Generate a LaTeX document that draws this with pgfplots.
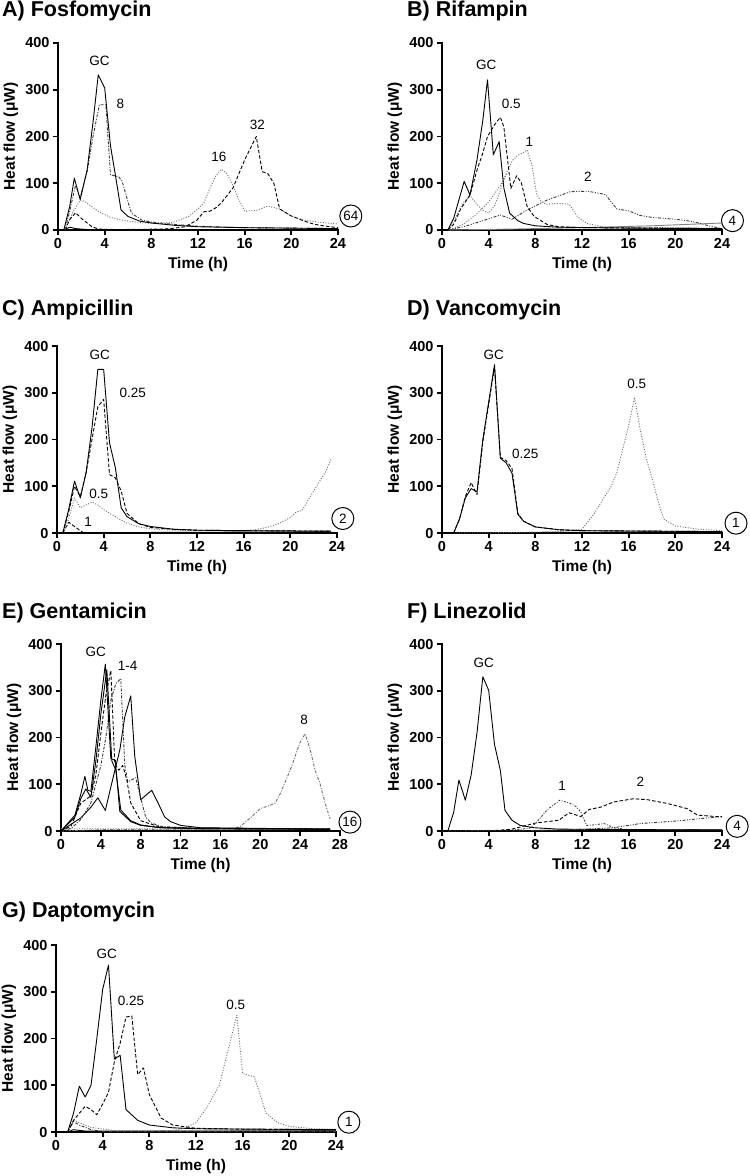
\documentclass[border=0pt]{standalone}
\usepackage{fontspec}
\setmainfont{Liberation Sans}
\usepackage{pgfplots}
\pgfplotsset{compat=1.18}
\definecolor{dotgray}{HTML}{707070}
\definecolor{dkgray}{HTML}{3A3A3A}
\pgfplotsset{
  panel/.style={
    scale only axis, width=280pt, height=187pt,
    xmin=0, xmax=24, ymin=0, ymax=400,
    axis lines=left, axis line style={-, line width=2.4pt, line cap=rect},
    tick align=outside, major tick length=5pt,
    tick style={line width=1.8pt, black},
    xtick={0,4,...,24}, ytick={0,100,...,400},
    tick label style={font=\fontsize{14.5}{14.5}\selectfont\bfseries},
    /pgf/number format/assume math mode=true,
    xlabel={Time (h)}, ylabel={Heat flow (μW)},
    label style={font=\fontsize{15.5}{15.5}\selectfont\bfseries},
    xlabel style={at={(axis description cs:0.5,-0.187)}, anchor=center},
    ylabel style={at={(axis description cs:-0.168,0.5)}, anchor=center},
    clip=false,
    every axis plot/.append style={line width=0.9pt, line join=round},
  },
  sol/.style={black, solid},
  das/.style={black, dash pattern=on 3.5pt off 2pt},
  dot/.style={dotgray, dash pattern=on 1pt off 1.6pt},
  dd/.style={dkgray, dash pattern=on 3pt off 1.5pt on 1pt off 1.5pt},
  ddd/.style={dkgray, dash pattern=on 3pt off 1.5pt on 1pt off 1.5pt on 1pt off 1.5pt},
  flat/.style={black, line width=1.4pt},
}
\tikzset{
  annot/.style={font=\fontsize{13.5}{13.5}\selectfont, inner sep=0pt},
  circ/.style={draw, circle, line width=1pt, inner sep=1pt, minimum size=22pt, font=\fontsize{13.5}{13.5}\selectfont},
  ttl/.style={anchor=base west, inner sep=0pt, font=\fontsize{21.5}{21.5}\selectfont\bfseries},
}
\begin{document}
\begin{tikzpicture}
\useasboundingbox (0,0) rectangle (750pt,-1176pt);
\node[ttl] at (2pt,-16pt) {A) Fosfomycin};
\node[ttl] at (407pt,-16pt) {B) Rifampin};
\node[ttl] at (2pt,-315pt) {C) Ampicillin};
\node[ttl] at (407pt,-315pt) {D) Vancomycin};
\node[ttl] at (2pt,-618pt) {E) Gentamicin};
\node[ttl] at (407pt,-618pt) {F) Linezolid};
\node[ttl] at (2pt,-917pt) {G) Daptomycin};

% ---------------- A
\begin{axis}[panel, at={(58pt,-230pt)}, anchor=south west]
\addplot[flat] coordinates {(0.5,0)(24,0.5)};
\addplot[sol] coordinates {(0.5,0)(1,6)(1.5,3)(2.5,1)(24,1)};
\addplot[dot] coordinates {(0.6,0)(1.2,35)(1.9,64)(2.3,61)(3,48)(3.5,39)(4.5,27)(5.5,21)(7,16)(8.3,14)(9.8,16)(11.2,29)(12,45)(12.5,58)(13,88)(13.5,115)(14,130)(14.5,120)(15,95)(15.5,65)(16,40)(17,42)(18,51)(19,45)(20,30)(21,22)(22,18)(23,15)(24,13)};
\addplot[das] coordinates {(0.6,0)(1,22)(1.5,37)(2,25)(2.9,7)(3.5,2)(5,1)(9,2)(10,4)(10.9,7)(11.9,21)(12.5,39)(13,40)(13.5,47)(14,58)(15,90)(16,150)(17,200)(17.5,125)(18,120)(18.5,100)(19,45)(20,30)(21,20)(22,12)(23,8)(24,5)};
\addplot[dd] coordinates {(0.6,0)(1,40)(1.5,95)(1.9,70)(2.5,125)(3,200)(3.55,268)(4.1,268)(4.5,118)(5.2,114)(5.5,104)(6,60)(6.3,36)(7.2,21)(8,17)(10,12)(12,8)(16,5)(20,4)(24,3)};
\addplot[sol] coordinates {(0.5,0)(1,50)(1.4,111)(1.9,65)(2.5,129)(3,230)(3.45,332)(4,304)(4.5,180)(5,105)(5.4,43)(6,29)(7,19)(8,15)(10,10)(12,7)(16,5)(20,4)(24,3)};
\node[annot] at (axis cs:3.55,361) {GC};
\node[annot] at (axis cs:5.35,269) {8};
\node[annot] at (axis cs:13.8,157) {16};
\node[annot] at (axis cs:17.1,225) {32};
\node[circ] at (axis cs:25.1,30) {64};
\end{axis}

% ---------------- B
\begin{axis}[panel, at={(442pt,-230pt)}, anchor=south west]
\addplot[flat] coordinates {(0.5,0)(24,1)};
\addplot[sol, gray] coordinates {(0.5,0)(6,2)(12,5)(18,9)(21,12)(24,15)};
\addplot[ddd] coordinates {(0.5,0)(2,8)(3.5,20)(5,32)(6,23)(7.3,43)(9,64)(11,82)(12.5,83)(14,76)(14.5,60)(15,45)(16,41)(17,31)(18,27)(19,25)(20,23)(21,20)(22,15)(23,8)(24,3)};
\addplot[dot] coordinates {(0.7,0)(2,15)(3,35)(4,60)(5,95)(5.5,120)};
\addplot[dot] coordinates {(0.6,0)(1.2,28)(1.8,58)(2.4,73)(3,55)(3.5,42)(4,36)(4.5,52)(5,85)(5.5,120)(6,148)(6.5,160)(7,166)(7.3,171)(7.7,140)(8.1,78)(8.5,60)(9,55)(10,57)(10.9,55)(11.6,29)(12.4,14)(14,6)(24,4)};
\addplot[das] coordinates {(0.5,0)(1,12)(1.6,45)(2.4,75)(3,128)(3.5,165)(3.9,200)(4.5,225)(5,241)(5.3,221)(5.9,89)(6.4,116)(6.8,101)(7.3,50)(7.9,29)(9,12)(10,7)(12,5)(24,3)};
\addplot[sol] coordinates {(0.5,0)(1,25)(1.4,60)(1.9,104)(2.4,75)(3,150)(3.5,235)(3.9,321)(4.4,161)(4.9,189)(5.3,90)(5.8,36)(6.5,20)(7,14)(8,9)(10,6)(16,4)(24,3)};
\node[annot] at (axis cs:3.8,354) {GC};
\node[annot] at (axis cs:5.94,270) {0.5};
\node[annot] at (axis cs:7.5,189) {1};
\node[annot] at (axis cs:12.5,114) {2};
\node[circ] at (axis cs:24.9,20) {4};
\end{axis}

% ---------------- C
\begin{axis}[panel, at={(57pt,-533pt)}, anchor=south west]
\addplot[flat] coordinates {(0.5,0)(23.5,2)};
\addplot[das] coordinates {(0.5,0)(1,23)(2,5)(2.3,0)};
\addplot[dot] coordinates {(0.5,0)(1,30)(1.5,75)(2,54)(2.5,60)(3,66)(3.5,60)(4,50)(5,35)(6,21)(7,13)(8,9)(10,6)(12,5)(16,5)(17,7)(18,12)(19,20)(20,33)(20.5,45)(21,48)(22,90)(23,130)(23.5,158)};
\addplot[das] coordinates {(0.5,0)(1,45)(1.5,100)(2,78)(2.5,130)(3,200)(3.5,270)(4,286)(4.5,125)(5,118)(5.5,90)(6,42)(7,20)(8,12)(10,8)(12,6)(16,5)(23.5,4)};
\addplot[sol] coordinates {(0.5,0)(1,50)(1.5,111)(2,75)(2.5,130)(3,225)(3.5,350)(4,350)(4.5,193)(5,140)(5.5,54)(6,35)(7,20)(8,14)(10,8)(12,6)(16,5)(23.5,4)};
\node[annot] at (axis cs:3.66,382) {GC};
\node[annot] at (axis cs:6.5,300) {0.25};
\node[annot] at (axis cs:3.57,84) {0.5};
\node[annot] at (axis cs:2.66,23) {1};
\node[circ] at (axis cs:24.5,31) {2};
\end{axis}

% ---------------- D
\begin{axis}[panel, at={(442pt,-533pt)}, anchor=south west]
\addplot[flat] coordinates {(1,0)(24,2)};
\addplot[dot] coordinates {(1,0)(6,1)(10,3)(12,8)(13,40)(14,80)(14.5,100)(15,130)(16,230)(16.5,290)(17,220)(17.5,160)(18,118)(18.5,70)(19,30)(20,15)(22,8)(24,5)};
\addplot[das] coordinates {(1,0)(1.5,30)(2,78)(2.5,108)(3,82)(3.5,195)(4,275)(4.5,355)(5,162)(5.5,155)(6,138)(6.5,42)(7,25)(8,13)(10,7)(12,5)(24,3)};
\addplot[sol] coordinates {(1,0)(1.5,30)(2,75)(2.5,95)(3,88)(3.5,200)(4,280)(4.5,360)(5,160)(5.5,150)(6,128)(6.5,40)(7,25)(8,13)(10,7)(12,5)(24,3)};
\node[annot] at (axis cs:4.43,382) {GC};
\node[annot] at (axis cs:7.14,170) {0.25};
\node[annot] at (axis cs:16.7,318) {0.5};
\node[circ] at (axis cs:25.2,21) {1};
\end{axis}

% ---------------- E
\begin{axis}[panel, width=279pt, xmax=28, xtick={0,4,...,28}, at={(61pt,-831pt)}, anchor=south west]
\addplot[flat] coordinates {(0,0)(27,2)};
\addplot[dot] coordinates {(0,5)(16,4)};
\addplot[dd, dotgray] coordinates {(0,0)(4,3)(12,4)(16,4)(17.5,6)(18,10)(19,28)(20,48)(21,55)(21.5,60)(22,80)(23,130)(24,190)(24.5,208)(25,175)(25.5,130)(26,101)(26.5,60)(27,26)};
\addplot[sol] coordinates {(0,0)(1.4,20)(2,28)(3,51)(3.7,71)(4.45,44)(5,94)(5.9,173)(6.4,244)(7,289)(7.4,160)(8,67)(9.1,87)(9.7,62)(10.4,30)(11,20)(12,12)(14,7)(27,4)};
\addplot[dd] coordinates {(0,0)(1,5)(2,25)(3,60)(4,140)(4.5,200)(5,280)(5.5,315)(6,326)(6.4,141)(6.7,105)(7.5,114)(8,70)(8.5,30)(9,18)(10,10)(14,5)(27,4)};
\addplot[das] coordinates {(0,0)(1,10)(2,60)(3,75)(3.5,120)(4,209)(4.5,290)(5,343)(5.4,144)(5.8,130)(6.2,140)(6.6,110)(7,60)(8,22)(10,8)(14,5)(27,4)};
\addplot[sol] coordinates {(0,0)(1.4,30)(2,70)(2.5,90)(3,72)(3.5,150)(4,250)(4.6,345)(5.1,150)(5.5,130)(6,45)(7,22)(8,13)(10,7)(27,4)};
\addplot[sol] coordinates {(0,0)(1.4,34)(2,80)(2.4,117)(2.7,87)(3,85)(3.5,180)(4,280)(4.45,357)(5,155)(5.45,151)(5.9,42)(7,20)(8,12)(10,7)(14,5)(27,4)};
\node[annot] at (axis cs:3.48,384) {GC};
\node[annot] at (axis cs:6.69,354) {1-4};
\node[annot] at (axis cs:24.4,237) {8};
\node[circ] at (axis cs:29,19) {16};
\end{axis}

% ---------------- F
\begin{axis}[panel, at={(442pt,-831pt)}, anchor=south west]
\addplot[flat] coordinates {(0.5,0)(24,2)};
\addplot[ddd] coordinates {(6,0)(10,2)(12.4,4)(14.7,7)(17,16)(19.9,21)(24,31)};
\addplot[das] coordinates {(4.1,0)(6,4)(8,17)(10,23)(10.9,39)(11.9,31)(12.6,46)(13.6,51)(14.7,62)(16.4,69)(17.6,67)(19.3,59)(21,48)(21.9,34)(24,30)};
\addplot[dd, dash pattern=on 2pt off 1.5pt on 0.8pt off 1.5pt] coordinates {(0,0)(6,2)(7.5,6)(8,16)(8.5,30)(9,45)(10.1,66)(11,59)(11.5,52)(11.9,41)(12.4,12)(13,13)(13.9,16)(14.7,7)(16,3)(24,2)};
\addplot[sol] coordinates {(0.5,0)(1,40)(1.45,109)(2,66)(2.5,120)(3,210)(3.5,330)(4,301)(4.5,185)(5,130)(5.4,44)(6,23)(6.7,12)(7.9,7)(10,4)(24,2)};
\node[annot] at (axis cs:3.57,360) {GC};
\node[annot] at (axis cs:10.3,96) {1};
\node[annot] at (axis cs:17,106) {2};
\node[circ] at (axis cs:25.3,10) {4};
\end{axis}

% ---------------- G
\begin{axis}[panel, at={(56pt,-1132pt)}, anchor=south west]
\addplot[flat] coordinates {(1,0)(24,2)};
\addplot[sol] coordinates {(1,0)(1.5,5)(2.5,2)(24,2)};
\addplot[dd] coordinates {(1,0)(1.5,22)(2,15)(3,5)(4,1)(24,1)};
\addplot[dot] coordinates {(1,0)(1.5,25)(2,20)(3,10)(5,3)(10,3)(11,8)(12,20)(13,55)(14,100)(14.5,150)(15,200)(15.5,250)(16,125)(17,118)(17.5,80)(18,40)(19,20)(20,12)(22,7)(24,6)};
\addplot[das] coordinates {(1,0)(1.5,25)(2,40)(2.5,55)(3,48)(3.5,37)(4,60)(4.5,85)(5,150)(5.5,190)(6,246)(6.5,248)(7,123)(7.5,137)(8,80)(9,30)(10,15)(12,8)(16,6)(24,5)};
\addplot[sol] coordinates {(1,0)(1.5,40)(2,98)(2.5,75)(3,100)(3.5,200)(4,305)(4.5,357)(5,156)(5.5,164)(6,48)(7,25)(8,15)(10,9)(12,7)(24,5)};
\node[annot] at (axis cs:4.35,382) {GC};
\node[annot] at (axis cs:6.42,280) {0.25};
\node[annot] at (axis cs:15.4,273) {0.5};
\node[circ] at (axis cs:25.1,21) {1};
\end{axis}
\end{tikzpicture}
\end{document}
